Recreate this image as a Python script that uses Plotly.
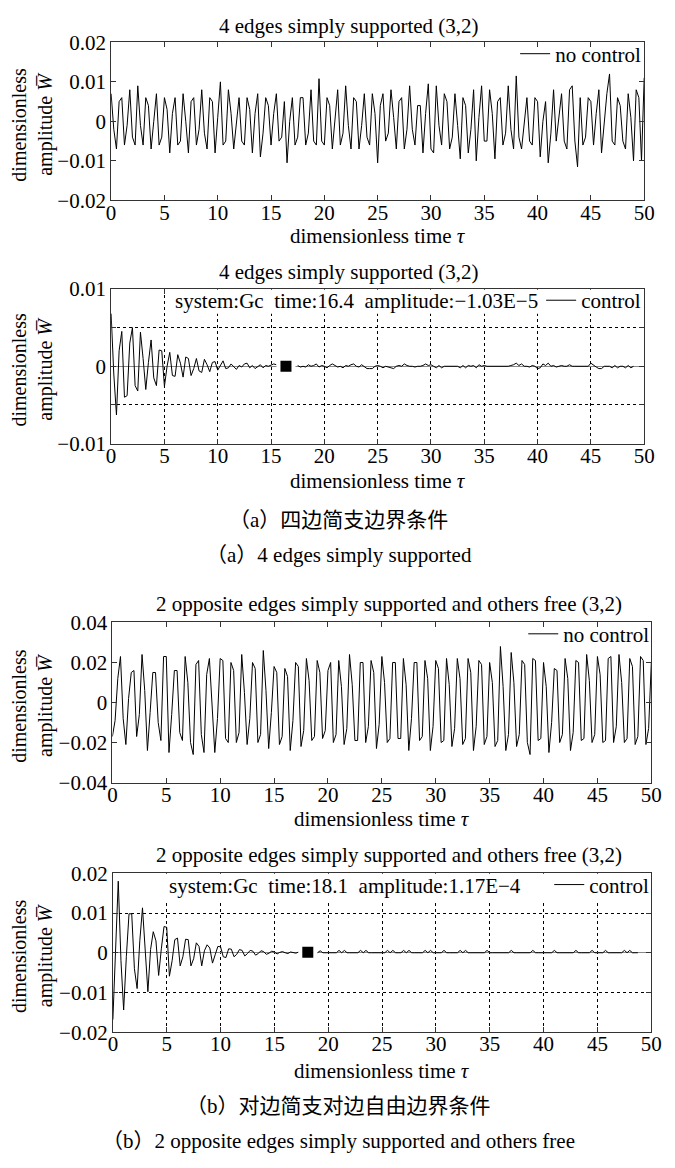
import plotly.graph_objects as go

# ---------------- data (amplitudes in units of 1e-3) ----------------
DT = 0.25  # sampling step of dimensionless time
N = None

# (a) 4 edges simply supported, no control
A_NOCTRL = [
    7, -2, -7, 5, 6, -6, -1, 8, -4, -6, 9, -1, -6, 6, 4, -7, 0, 7, -6, -4,
    6, 3, -8, 2, 6, -6, -5, 7, 0, -8, 5, 6, -6, -2, 8, -3, -7, 6, 5, -8,
    1, 10, -6, -5, 8, 2, -7, -1, 6, -5, -6, 6, 3, -8, 2, 7, -9, -3, 6, 4,
    -6, 2, 7, -5, -4, 5, -10.5, 0, 6, -6, -4, 6, 6, -6, -3, 8, -5, -6, 10.8, -5,
    -6, 6, 4, -7, 1, 8, -6, -3, 9, -1, -7, 6, 5, -7, -1, 7, -4, -6, 7, 2,
    -10.5, 4, 7, -5, -3, 8, 1, -7, 5, 6, -7, -2, 9, -2, -6, 4, 4, -8, 2, 9.5,
    -7, -8, 9, -1, -6, 7, 5, -7, -4, 7, -1, -9.5, 6, 4, -8, -2, 8, -10, 1, 9,
    -5, -5, 8, 2, -9.5, 5, 6, -6, -3, 9, -2, -7, 11.5, -4, -7, 0, 6, -5, -6, 6,
    5, -9, 0, 5, -10.5, -3, 8, -5, 1, 7, -5, -7, 8, 9, -5, -11.5, 6, -6, -4, 6,
    5, -6, 2, 8, -8, -1, 7, 12, -5, -6, 6, 4, -5, -7, 7, 1, -10, 8, 6, -10,
    11,
]

# (a) 4 edges simply supported, control
A_CTRL = [
    6.8, -1.0, -6.3, 2.0, 4.5, -4.0, -3.8, 3.0, 5.0, -2.5, -3.2, 4.4, 1.0, -3.0, 0.5, 3.4, -1.5, -2.5, 2.1, 2.0,
    -2.6, 0.0, 1.8, -1.2, -1.3, 1.5, 0.4, -1.4, 1.2, 1.0, -1.2, -0.3, 1.0, -0.6, -0.8, 0.9, 0.2, -0.7, 0.5, 0.6,
    -0.5, 0.1, 0.7, -0.3, -0.2, 0.3, -0.1, -0.4, 0.1, -0.1, 0.3, 0.4, -0.2, 0.1, -0.3, 0.0, 0.2, -0.2, 0.1, 0.0,
    0.1, 0.3, 0.2, N, N, N, N, N, N, N, 0.1, -0.1, 0.0, -0.1, 0.2, 0.0, 0.1, 0.3, -0.1, 0.1,
    0.0, -0.2, 0.1, 0.3, 0.1, -0.1, 0.0, -0.2, 0.1, 0.0, 0.2, 0.3, 0.0, -0.1, 0.2, 0.0, -0.3, -0.3, -0.3, 0.0,
    0.1, 0.0, -0.2, 0.0, -0.1, -0.3, -0.3, 0.0, 0.1, 0.0, 0.3, 0.1, 0.0, 0.0, -0.1, 0.0, 0.0, 0.1, 0.3, 0.1,
    0.2, 0.0, -0.2, 0.1, -0.2, 0.0, 0.0, 0.0, 0.0, 0.0, 0.0, -0.2, 0.1, -0.2, 0.1, 0.0, 0.1, -0.2, 0.2, 0.0,
    0.1, 0.0, 0.0, 0.0, 0.0, 0.0, 0.0, 0.0, 0.0, 0.0, 0.1, 0.2, 0.4, 0.1, 0.3, 0.0, 0.0, -0.1, 0.1, 0.0,
    -0.3, -0.2, 0.3, 0.1, 0.4, 0.0, 0.1, -0.1, 0.0, 0.1, 0.0, 0.0, 0.2, 0.0, 0.0, 0.0, 0.0, 0.0, 0.0, 0.0,
    0.4, 0.1, -0.1, -0.3, -0.3, 0.0, 0.0, 0.0, -0.2, 0.1, -0.2, 0.0, 0.0, -0.2, 0.1, -0.2, 0.0, N, N, N,
    N,
]

# (b) 2 opposite edges simply supported and others free, no control
B_NOCTRL = [
    -17, -9, 12, 23, -8, -21, 2, 15, 16, -17, -6, 24, 6, -24, -5, 15, 15, -10, -19, 23,
    23, -25, -6, 16, 16, -15, -19, 23, 10, -20, -26, 19, 21, -16, -25, 14, 22, 1, -25, -8,
    22, 21, -18, -20, 20, 16, -20, -15, 24, 5, -21, -8, 20, 17, -20, -16, 26, 6, -23, -5,
    18, 15, -21, -17, 17, 13, -24, -9, 20, 18, -22, -14, 22, 11, -19, -17, 21, 15, -18, -14,
    16, 20, -20, -16, 21, 8, -21, -13, 24, 9, -19, -19, 20, 20, -20, -12, 21, 15, -23, -11,
    23, 10, -20, -18, 20, 20, -18, -18, 22, 9, -24, -8, 20, 20, -19, -17, 21, 12, -24, -12,
    21, 17, -20, -19, 22, 9, -22, -13, 22, 12, -21, -18, 22, 15, -24, -12, 21, 19, -21, -17,
    20, 10, -22, -19, 28, 8, -24, -16, 25, 10, -22, -16, 21, 19, -20, -26, 22, 21, -19, -18,
    20, 8, -25, -10, 17, 16, -20, -16, 22, 12, -24, -15, 21, 20, -19, -18, 24, 11, -20, -16,
    23, 14, -20, -19, 22, 23, -20, -12, 24, 10, -20, -18, 22, 18, -21, -17, 23, 21, -21, -13,
    20,
]

# (b) 2 opposite edges simply supported and others free, control
B_CTRL = [
    -16.8, 2, 18, -2, -14.4, -1, 9.8, 9.8, -4, -9, 3, 11.3, 0, -9.8, 0.8, 5.3, 3, -5.7, 1, 6.6,
    6.4, -5.9, -2, 3.3, 3.7, -3.3, -1, 3.4, 3.3, -3.3, -1.5, 2.5, 1.6, -3.3, 0.5, 2.0, 1.2, -2.6, -0.5, 1.6,
    1.5, -1.0, -1.2, 1.0, 0.9, -1.0, -0.4, 0.8, 0.6, -0.8, -0.2, 0.6, 0.4, -0.6, -0.2, 0.5, 0.3, -0.4, -0.1, 0.4,
    0.2, -0.3, 0.1, 0.3, 0.0, -0.2, 0.2, 0.1, -0.1, 0.2, N, N, N, N, N, N, 0.0, 0.5, 0.0, 0.0,
    0.0, 0.0, 0.0, 0.0, 0.6, 0.0, 0.6, 0.0, 0.0, 0.0, 0.0, 0.0, 0.6, 0.0, 0.6, 0.0, 0.0, 0.0, 0.0, 0.0,
    0.0, 0.0, 0.6, 0.0, 0.6, 0.0, 0.0, 0.0, 0.6, 0.0, 0.6, 0.0, 0.0, 0.0, 0.0, 0.0, 0.6, 0.0, 0.6, 0.0,
    0.0, 0.0, 0.0, 0.6, 0.0, 0.0, 0.0, 0.0, 0.0, 0.6, 0.0, 0.6, 0.0, 0.0, 0.0, 0.0, 0.0, 0.0, 0.0, 0.6,
    0.0, 0.0, 0.0, 0.0, 0.0, 0.0, 0.0, 0.0, 0.6, 0.0, 0.0, 0.0, 0.0, 0.0, 0.0, 0.0, 0.6, 0.0, 0.0, 0.0,
    0.0, 0.0, 0.0, 0.0, 0.6, 0.0, 0.0, 0.0, 0.0, 0.0, 0.0, 0.0, 0.6, 0.0, 0.0, 0.0, 0.0, 0.0, 0.6, 0.0,
    0.0, 0.0, 0.0, 0.6, 0.0, 0.0, 0.0, 0.0, 0.0, 0.0, 0.6, 0.0, 0.6, 0.0, 0.0, 0.0, N, N, N, N,
    N,
]

# data-tip markers (time, amplitude in 1e-3)
A_TIP = (16.4, -0.0103)
B_TIP = (18.1, 0.117)

X_TICKS = [0, 5, 10, 15, 20, 25, 30, 35, 40, 45, 50]
Y1_VALS, Y1_TEXT = [-20, -10, 0, 10, 20], ["−0.02", "−0.01", "0", "0.01", "0.02"]
Y2_VALS, Y2_TEXT = [-10, -5, 0, 5, 10], ["−0.01", "", "0", "", "0.01"]
Y3_VALS, Y3_TEXT = [-40, -20, 0, 20, 40], ["−0.04", "−0.02", "0", "0.02", "0.04"]
Y4_VALS, Y4_TEXT = [-20, -10, 0, 10, 20], ["−0.02", "−0.01", "0", "0.01", "0.02"]

TITLE_A = "4 edges simply supported (3,2)"
TITLE_B = "2 opposite edges simply supported and others free (3,2)"
X_TITLE = "dimensionless time <i>τ</i>"
Y_TITLE = "dimensionless<br>amplitude <i>W\u0305</i>"
INFO_A = "system:Gc\u00a0\u00a0time:16.4\u00a0\u00a0amplitude:−1.03E−5"
INFO_B = "system:Gc\u00a0\u00a0time:18.1\u00a0\u00a0amplitude:1.17E−4"
CAP_A_CN, CAP_A_EN = "（a）四边简支边界条件", "（a）4 edges simply supported"
CAP_B_CN, CAP_B_EN = "（b）对边简支对边自由边界条件", "（b）2 opposite edges simply supported and others free"

# ---------------- layout helpers ----------------
W, H = 675, 1168
FONT = "Liberation Serif, Times New Roman, Noto Sans CJK SC, serif"
FS = 21


def px(x):
    return x / W


def py(y):
    return 1 - y / H


# plot boxes in pixels: (left, right, top, bottom)
BOX = [
    (108.7, 654.7, 31.0, 192.3),
    (108.7, 654.7, 282.7, 440.7),
    (110.0, 662.0, 623.3, 786.7),
    (110.5, 662.0, 879.3, 1041.7),
]
LEG_DX = [2, 2, 3, 3]

fig = go.Figure()

series = [(A_NOCTRL, "no control"), (A_CTRL, "control"), (B_NOCTRL, "no control"), (B_CTRL, "control")]
for i, (vals, name) in enumerate(series):
    sfx = "" if i == 0 else str(i + 1)
    fig.add_trace(go.Scatter(
        y=vals, x0=0, dx=DT, mode="lines", name=name,
        line=dict(color="black", width=1),
        xaxis="x" + sfx, yaxis="y" + sfx, legend="legend" + sfx,
        connectgaps=False,
    ))

for tip, sfx in [(A_TIP, "2"), (B_TIP, "4")]:
    fig.add_trace(go.Scatter(x=[tip[0]], y=[tip[1]], mode="markers", showlegend=False,
                             marker=dict(symbol="square", size=19, color="white"),
                             xaxis="x" + sfx, yaxis="y" + sfx))
    fig.add_trace(go.Scatter(x=[tip[0]], y=[tip[1]], mode="markers", showlegend=False,
                             marker=dict(symbol="square", size=11, color="black"),
                             xaxis="x" + sfx, yaxis="y" + sfx))

yspec = [(Y1_VALS, Y1_TEXT, False), (Y2_VALS, Y2_TEXT, True), (Y3_VALS, Y3_TEXT, False), (Y4_VALS, Y4_TEXT, True)]
layout = dict(
    width=W, height=H, autosize=False,
    margin=dict(l=0, r=0, t=0, b=0),
    paper_bgcolor="white", plot_bgcolor="white",
    font=dict(family=FONT, size=FS, color="black"),
    showlegend=True,
)
for i, (l, r, t, b) in enumerate(BOX):
    sfx = "" if i == 0 else str(i + 1)
    vals, text, grid = yspec[i]
    common = dict(showline=True, linecolor="#333", linewidth=1, mirror="ticks",
                  ticks="inside", ticklen=5, tickcolor="#333", tickwidth=1,
                  tickfont=dict(family=FONT, size=FS, color="black"),
                  zeroline=False, showgrid=grid, gridcolor="black", gridwidth=1, griddash="dot")
    layout["xaxis" + sfx] = dict(common, domain=[px(l), px(r)], range=[0, 50], tickvals=X_TICKS,
                                 ticktext=[str(v) for v in X_TICKS], anchor="y" + sfx,
                                 ticklabelstandoff=-7)
    layout["yaxis" + sfx] = dict(common, domain=[py(b), py(t)], range=[vals[0], vals[-1]],
                                 tickvals=vals, ticktext=text, anchor="x" + sfx,
                                 zeroline=grid, zerolinecolor="#888", zerolinewidth=1)
    layout["legend" + sfx] = dict(x=px(r + LEG_DX[i]), y=py(t - 9), xanchor="right", yanchor="top",
                                  bgcolor="rgba(0,0,0,0)", borderwidth=0, itemwidth=30,
                                  font=dict(family=FONT, size=FS, color="black"))

fig.update_layout(**layout)

ann = []


def text(x, y, s, size=FS, **kw):
    d = dict(x=px(x), y=py(y), xref="paper", yref="paper", text=s, showarrow=False,
             font=dict(family=FONT, size=size, color="black"), xanchor="center", yanchor="middle")
    d.update(kw)
    ann.append(d)


titles = [(352, 14, TITLE_A), (352, 265, TITLE_A), (393, 604, TITLE_B), (393, 861, TITLE_B)]
xtitles = [229, 479, 824, 1081]
for i, (l, r, t, b) in enumerate(BOX):
    tx, ty, tt = titles[i]
    text(tx, ty, tt)
    text((l + r) / 2, xtitles[i], X_TITLE)
    text(28, (t + b) / 2 + 3, Y_TITLE, size=20, textangle=-90)

text(172, 295, INFO_A, xanchor="left")
text(166, 892, INFO_B, xanchor="left")
text(342, 519, CAP_A_CN, size=21)
text(342, 554, CAP_A_EN, size=21)
text(342, 1117, CAP_B_CN, size=21)
text(342, 1153, CAP_B_EN, size=21)

shapes = [
    dict(type="rect", xref="x2", yref="y2", x0=5.5, x1=49.85, y0=6.8, y1=9.9,
         fillcolor="white", line=dict(width=0), layer="above"),
    dict(type="rect", xref="x4", yref="y4", x0=4.6, x1=49.85, y0=12.9, y1=19.85,
         fillcolor="white", line=dict(width=0), layer="above"),
]
fig.update_layout(annotations=ann, shapes=shapes)

fig.write_html(
    "out.html",
    config={"displayModeBar": False},
    post_script="document.body.style.margin='0';document.body.style.overflow='hidden';",
)
